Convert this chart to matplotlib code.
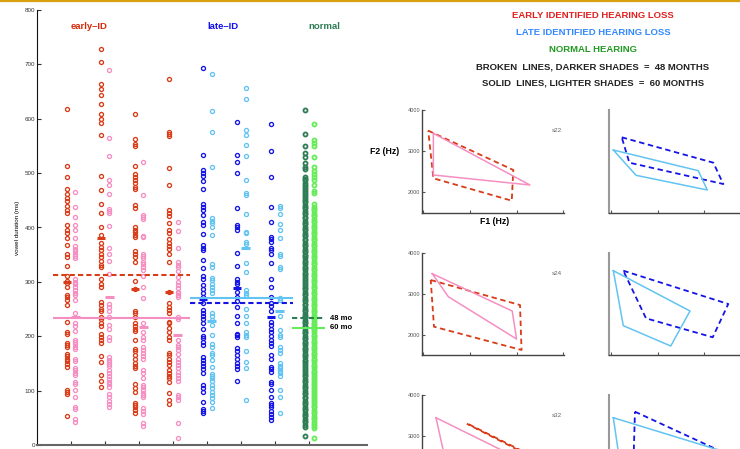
import matplotlib
matplotlib.use("Agg")
import matplotlib.pyplot as plt
from matplotlib.lines import Line2D

plt.rcParams['font.family'] = ['Liberation Sans', 'DejaVu Sans']

# ---------------- vowel durations (ms) ----------------
# early identified, 48 months (darker) / 60 months (lighter)
early1_48 = [618, 514, 493, 471, 461, 455, 449, 439, 432, 426, 404, 395, 389, 380, 368, 352, 346, 329,
             311, 302, 298, 290, 276, 272, 266, 257, 227, 208, 205, 187, 184, 180, 168, 164, 159, 155,
             149, 143, 102, 98, 94, 54]
early1_60 = [465, 438, 420, 405, 395, 380, 366, 361, 357, 352, 347, 343, 306, 300, 296, 291, 285, 279,
             275, 266, 243, 224, 218, 210, 194, 190, 186, 181, 176, 159, 155, 141, 138, 133, 129, 116,
             112, 101, 89, 70, 66, 48, 43]
early2_48 = [728, 704, 663, 654, 643, 628, 609, 599, 592, 571, 495, 469, 443, 427, 400, 387, 371, 365,
             358, 351, 345, 338, 331, 327, 305, 297, 291, 263, 257, 251, 247, 236, 231, 224, 218, 205,
             199, 193, 188, 164, 153, 129, 118, 107]
early2_60 = [689, 565, 532, 488, 478, 461, 434, 430, 426, 403, 363, 351, 338, 314, 259, 253, 247, 236,
             221, 214, 199, 193, 162, 157, 153, 149, 145, 138, 133, 127, 121, 116, 112, 106, 94, 88,
             81, 75, 69]
early3_48 = [609, 562, 554, 549, 514, 498, 493, 488, 481, 474, 470, 441, 435, 401, 396, 392, 386, 382,
             357, 351, 346, 337, 301, 287, 247, 242, 236, 224, 219, 214, 210, 194, 176, 172, 165, 159,
             151, 145, 141, 113, 104, 98, 78, 73, 69, 64, 59]
early3_60 = [521, 460, 423, 420, 415, 384, 382, 351, 347, 343, 337, 333, 328, 322, 311, 291, 270, 225,
             208, 199, 194, 181, 175, 169, 164, 158, 138, 132, 123, 110, 106, 101, 96, 92, 89, 68, 63,
             57, 40, 35]
early4_48 = [673, 576, 572, 568, 509, 479, 433, 427, 421, 409, 395, 390, 378, 372, 366, 360, 352, 337,
             282, 261, 254, 249, 242, 227, 224, 216, 208, 199, 194, 170, 165, 159, 153, 147, 138, 132,
             127, 123, 116, 95, 83, 75]
early4_60 = [410, 393, 362, 337, 331, 327, 320, 309, 300, 294, 288, 282, 279, 276, 273, 236, 231, 194,
             184, 180, 175, 167, 159, 153, 147, 141, 135, 129, 123, 118, 92, 88, 83, 41, 13]

# late identified
late1_48 = [694, 533, 505, 501, 495, 486, 470, 443, 438, 433, 423, 410, 404, 388, 368, 363, 358, 340,
            325, 311, 306, 294, 286, 280, 272, 262, 249, 243, 237, 231, 224, 214, 200, 196, 190, 184,
            162, 156, 151, 145, 139, 133, 110, 104, 98, 80, 67, 63, 58]
late1_60 = [683, 614, 576, 512, 417, 412, 408, 401, 386, 333, 328, 308, 303, 297, 291, 285, 279, 242,
            237, 230, 221, 202, 186, 181, 170, 165, 156, 143, 131, 127, 123, 118, 110, 104, 98, 92, 86,
            80, 68]
late2_48 = [594, 534, 520, 501, 436, 404, 400, 396, 354, 329, 305, 300, 296, 282, 272, 264, 253, 237,
            225, 205, 202, 199, 178, 172, 165, 158, 151, 145, 139, 118]
late2_60 = [656, 636, 580, 570, 552, 531, 488, 463, 460, 425, 392, 389, 374, 369, 334, 319, 285, 280,
            275, 251, 237, 225, 208, 203, 199, 172, 153, 141, 83]
late3_48 = [590, 541, 493, 438, 410, 382, 378, 374, 363, 358, 351, 334, 306, 290, 273, 262, 255, 247,
            227, 221, 214, 208, 200, 194, 188, 182, 165, 159, 144, 139, 135, 116, 112, 101, 89, 78, 73,
            69, 63, 57, 51, 46]
late3_60 = [439, 435, 425, 406, 395, 380, 352, 347, 327, 323, 270, 267, 237, 211, 202, 198, 181, 175,
            170, 151, 145, 141, 137, 132, 127, 102, 88, 59]

# normal hearing (pooled)
normal_48 = [16, 34, 37, 42, 44, 48, 53, 55, 59, 64, 66, 70, 75, 77, 81, 86, 88, 93, 96, 99, 104, 107,
             110, 115, 117, 121, 126, 128, 133, 136, 139, 144, 147, 150, 155, 157, 161, 166, 168, 172,
             177, 179, 184, 187, 190, 195, 197, 201, 206, 208, 212, 217, 219, 224, 227, 230, 235, 237,
             241, 246, 248, 252, 257, 259, 264, 267, 270, 275, 277, 281, 286, 288, 292, 297, 299, 304,
             307, 310, 315, 317, 321, 326, 328, 332, 337, 339, 344, 347, 350, 355, 357, 361, 366, 368,
             372, 377, 379, 384, 387, 390, 395, 397, 401, 406, 408, 412, 417, 419, 424, 427, 430, 435,
             437, 441, 446, 448, 452, 457, 459, 464, 467, 470, 475, 478, 482, 487, 490, 493, 507, 512,
             519, 530, 537, 550, 572, 617]
normal_60 = [12, 31, 35, 38, 42, 47, 49, 53, 58, 60, 64, 69, 71, 75, 80, 82, 86, 91, 93, 97, 102, 104,
             108, 113, 115, 119, 124, 126, 130, 135, 137, 141, 146, 148, 152, 157, 159, 163, 168, 170,
             174, 179, 181, 185, 190, 192, 196, 201, 203, 207, 212, 214, 218, 223, 225, 229, 234, 236,
             240, 245, 247, 251, 256, 258, 262, 267, 269, 273, 278, 280, 284, 289, 291, 295, 300, 302,
             306, 311, 313, 317, 322, 324, 328, 333, 335, 339, 344, 346, 350, 355, 357, 361, 366, 368,
             372, 377, 379, 383, 388, 390, 394, 399, 401, 405, 410, 412, 416, 421, 423, 427, 432, 434,
             438, 443, 463, 468, 478, 487, 492, 498, 504, 512, 529, 550, 556, 561, 591]

early_means_48 = [300, 380, 286, 281]
early_means_60 = [236, 273, 217, 203]
late_means_48 = [268, 289, 235]
late_means_60 = [228, 363, 246]
group_48 = {'early': 312, 'late': 261, 'normal': 233}
group_60 = {'early': 233, 'late': 271, 'normal': 216}

yticks_main = [0, 100, 200, 300, 400, 500, 600, 700, 800]

# ---------------- vowel space polygons (F1, F2 in Hz) ----------------
s22_early_48_f1 = [232, 779, 769, 265, 232]
s22_early_48_f2 = [3496, 2537, 1788, 2334, 3496]
s22_early_60_f1 = [265, 886, 265, 265]
s22_early_60_f2 = [3431, 2171, 2415, 3431]
s22_late_48_f1 = [270, 859, 923, 319, 270]
s22_late_48_f2 = [3334, 2715, 2195, 2715, 3334]
s22_late_60_f1 = [216, 762, 820, 362, 216]
s22_late_60_f2 = [3024, 2520, 2049, 2407, 3024]

s24_early_48_f1 = [248, 822, 832, 269, 248]
s24_early_48_f2 = [3334, 2724, 1627, 2195, 3334]
s24_early_60_f1 = [258, 772, 800, 361, 258]
s24_early_60_f2 = [3488, 2578, 1895, 2927, 3488]
s24_late_48_f1 = [280, 955, 855, 426, 280]
s24_late_48_f2 = [3561, 2749, 1937, 2400, 3561]
s24_late_60_f1 = [216, 709, 585, 280, 216]
s24_late_60_f2 = [3561, 2578, 1724, 2220, 3561]

s32_early_48_f1 = [493, 860, 870, 840, 480]
s32_early_48_f2 = [3285, 2590, 1800, 2600, 3300]
s32_early_60_f1 = [282, 760, 790, 340, 282]
s32_early_60_f2 = [3446, 2550, 1950, 2450, 3446]
s32_late_48_f1 = [355, 980, 900, 344, 355]
s32_late_48_f2 = [3593, 2500, 1700, 2200, 3593]
s32_late_60_f1 = [216, 900, 700, 260, 216]
s32_late_60_f2 = [3446, 2650, 1800, 2300, 3446]

# colours
RED, PINK = '#d83c18', '#f58fc2'
BLUE, LBLUE = '#1414e6', '#62c4f2'
DGREEN, LGREEN = '#2e7d55', '#66ec58'

fig = plt.figure(figsize=(7.4, 4.49), dpi=100)
fig.add_artist(Line2D([0, 1], [0.998, 0.998], transform=fig.transFigure, color='#d8a010', lw=1.6))

# ---------------- left: vowel durations ----------------
ax = fig.add_axes([37 / 740, 1 - 445 / 449, 330 / 740, 435 / 449])
ax.set_xlim(0, 9.7)
ax.set_ylim(0, 800)

off = 0.13
mk = dict(ls='none', marker='o', mfc='none', ms=2.9, mew=0.95)
early = [(early1_48, early1_60), (early2_48, early2_60), (early3_48, early3_60), (early4_48, early4_60)]
late = [(late1_48, late1_60), (late2_48, late2_60), (late3_48, late3_60)]

for i, (d48, d60) in enumerate(early):
    x = i + 1
    ax.plot([x - off] * len(d48), d48, mec=RED, **mk)
    ax.plot([x + off] * len(d60), d60, mec=PINK, **mk)
    ax.hlines(early_means_48[i], x - off - 0.12, x - off + 0.12, color=RED, lw=2.2, zorder=4)
    ax.hlines(early_means_60[i], x + off - 0.12, x + off + 0.12, color=PINK, lw=2.2, zorder=4)

for i, (d48, d60) in enumerate(late):
    x = i + 5
    ax.plot([x - off] * len(d48), d48, mec=BLUE, **mk)
    ax.plot([x + off] * len(d60), d60, mec=LBLUE, **mk)
    ax.hlines(late_means_48[i], x - off - 0.12, x - off + 0.12, color=BLUE, lw=2.2, zorder=4)
    ax.hlines(late_means_60[i], x + off - 0.12, x + off + 0.12, color=LBLUE, lw=2.2, zorder=4)

mkn = dict(mk, ms=2.9, mew=1.3)
ax.plot([8 - off] * len(normal_48), normal_48, mec=DGREEN, **mkn)
ax.plot([8 + off] * len(normal_60), normal_60, mec=LGREEN, **mkn)

dash = (0, (2.5, 1.5))
ax.hlines(group_48['early'], 0.48, 4.51, color=RED, lw=1.5, linestyles=[dash], zorder=5)
ax.hlines(group_60['early'], 0.48, 4.51, color=PINK, lw=1.5, zorder=5)
ax.hlines(group_60['late'], 4.51, 7.53, color=LBLUE, lw=1.5, zorder=5)
ax.hlines(group_48['late'], 4.51, 7.53, color=BLUE, lw=1.5, linestyles=[dash], zorder=5)
ax.hlines(group_48['normal'], 7.51, 8.48, color=DGREEN, lw=1.5, linestyles=[dash], zorder=5)
ax.hlines(group_60['normal'], 7.51, 8.48, color=LGREEN, lw=1.5, zorder=5)
ax.text(8.6, group_48['normal'], '48 mo', fontsize=5.5, fontweight='bold', va='center', ha='left')
ax.text(8.6, group_60['normal'], '60 mo', fontsize=5.5, fontweight='bold', va='center', ha='left')

ax.text(1.53, 769, 'early\u2013ID', color='#d82808', fontsize=6.8, fontweight='bold', ha='center', va='center')
ax.text(5.47, 769, 'late\u2013ID', color='#1010f0', fontsize=6.8, fontweight='bold', ha='center', va='center')
ax.text(8.45, 769, 'normal', color=DGREEN, fontsize=6.8, fontweight='bold', ha='center', va='center')

ax.set_xticks(range(1, 9))
ax.set_xticklabels([])
ax.set_yticks(yticks_main)
ax.tick_params(axis='both', direction='in', length=3, width=0.8, labelsize=4.5, colors='#333333', pad=1.5)
ax.spines['top'].set_visible(False)
ax.spines['right'].set_visible(False)
ax.spines['left'].set_color('#111111')
ax.spines['bottom'].set_color('#666666')
ax.spines['bottom'].set_linewidth(1.5)
ax.set_ylabel('vowel duration (ms)', fontsize=4.5, labelpad=3)

# ---------------- right: header text ----------------
hdr = [('EARLY IDENTIFIED HEARING LOSS', '#e02020', 15.7),
       ('LATE IDENTIFIED HEARING LOSS', '#3388ff', 32.7),
       ('NORMAL HEARING', '#229922', 49.7),
       ('BROKEN  LINES, DARKER SHADES  =  48 MONTHS', '#222222', 66.7),
       ('SOLID  LINES, LIGHTER SHADES  =  60 MONTHS', '#222222', 83.3)]
for txt, col, ypx in hdr:
    fig.text(593 / 740, 1 - ypx / 449, txt, color=col, fontsize=6.8, fontweight='bold', ha='center', va='center')

# ---------------- right: vowel space panels ----------------
rows = [
    ('s22', 110, (s22_early_48_f1, s22_early_48_f2), (s22_early_60_f1, s22_early_60_f2),
     (s22_late_48_f1, s22_late_48_f2), (s22_late_60_f1, s22_late_60_f2)),
    ('s24', 252.7, (s24_early_48_f1, s24_early_48_f2), (s24_early_60_f1, s24_early_60_f2),
     (s24_late_48_f1, s24_late_48_f2), (s24_late_60_f1, s24_late_60_f2)),
    ('s32', 395, (s32_early_48_f1, s32_early_48_f2), (s32_early_60_f1, s32_early_60_f2),
     (s32_late_48_f1, s32_late_48_f2), (s32_late_60_f1, s32_late_60_f2)),
]
pw, ph = 142.3, 102.5
pdash = (0, (3, 2))
for r, (name, top, e48, e60, l48, l60) in enumerate(rows):
    for j, left in enumerate([421.7, 609.3]):
        pa = fig.add_axes([left / 740, 1 - (top + ph) / 449, pw / 740, ph / 449])
        pa.set_xlim(190, 1105)
        pa.set_ylim(1500, 4000)
        pa.set_xticks([200, 500, 800, 1100])
        pa.set_xticklabels([])
        for s in ('top', 'right'):
            pa.spines[s].set_visible(False)
        pa.spines['bottom'].set_color('#444444')
        pa.spines['bottom'].set_linewidth(1.0)
        if j == 0:
            pa.plot(e48[0], e48[1], color=RED, lw=1.3, ls=pdash)
            pa.plot(e60[0], e60[1], color=PINK, lw=1.1)
            pa.set_yticks([2000, 3000, 4000] if r < 2 else [3000, 4000])
            pa.spines['left'].set_color('#444444')
            pa.spines['left'].set_linewidth(1.0)
            pa.text(0.95, 0.80, name, transform=pa.transAxes, fontsize=4.5, color='#666666', ha='center', va='center')
        else:
            pa.plot(l48[0], l48[1], color=BLUE, lw=1.3, ls=pdash)
            pa.plot(l60[0], l60[1], color=LBLUE, lw=1.1)
            pa.set_yticks([])
            pa.spines['left'].set_color('#999999')
            pa.spines['left'].set_linewidth(1.5)
        pa.tick_params(axis='both', direction='in', length=2.5, width=0.8, labelsize=4, colors='#555555', pad=1)

fig.text(385 / 740, 1 - 151 / 449, 'F2 (Hz)', fontsize=6.3, fontweight='bold', ha='center', va='center')
fig.text(495 / 740, 1 - 222 / 449, 'F1 (Hz)', fontsize=6.3, fontweight='bold', ha='center', va='center')

fig.savefig('out.png', dpi=100)
plt.close(fig)
